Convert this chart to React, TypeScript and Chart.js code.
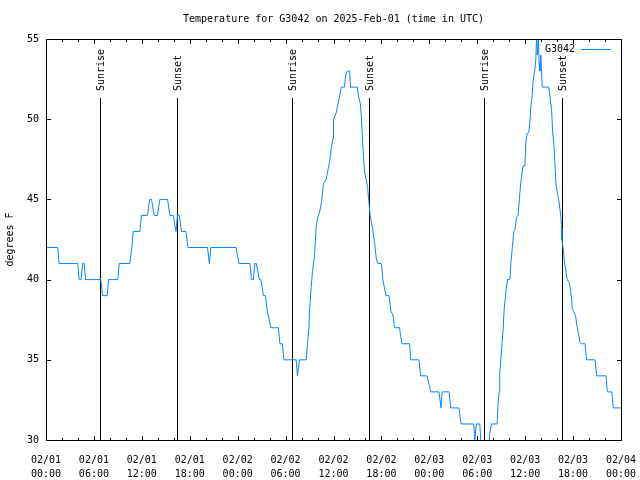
import React, { useEffect, useRef } from 'react';
import { Chart, registerables } from 'chart.js';

Chart.register(...registerables);

const FONT = "'DejaVu Sans Mono', 'Liberation Mono', monospace";
const TITLE = 'Temperature for G3042 on 2025-Feb-01 (time in UTC)';
const SERIES_LABEL = 'G3042';
const Y_LABEL = 'degrees F';
const LINE_COLOR = '#0a84ff';

// hours since 2025-02-01 00:00 UTC
const hours = [
  0, 1.47, 1.63, 3.98, 4.14, 4.39, 4.58, 4.77, 4.95, 6.86,
  7.09, 7.65, 7.84, 8.99, 9.16, 10.5, 10.75, 10.91, 11.75, 11.95,
  12.71, 12.98, 13.21, 13.55, 13.96, 14.26, 15.22, 15.52, 15.93, 16.27,
  16.47, 16.68, 16.97, 17.52, 17.78, 20.23, 20.45, 20.64, 23.8, 24.15,
  25.53, 25.72, 25.97, 26.15, 26.34, 26.72, 26.91, 27.22, 27.47, 27.72,
  28.16, 29.1, 29.29, 29.6, 29.79, 31.32, 31.49, 31.74, 32.58, 32.74,
  32.93, 32.99, 33.2, 33.37, 33.62, 33.83, 34.03, 34.25, 34.5, 34.75,
  35.09, 35.25, 35.5, 35.63, 35.75, 35.94, 36.0, 36.34, 36.5, 36.75,
  36.97, 37.38, 37.51, 37.72, 38.01, 38.13, 38.97, 39.14, 39.35, 39.51,
  39.64, 39.89, 40.1, 40.27, 40.43, 40.6, 40.86, 41.14, 41.36, 41.56,
  41.99, 42.19, 42.4, 42.59, 42.94, 43.21, 43.44, 43.65, 44.28, 44.37,
  44.57, 45.53, 45.66, 46.7, 46.91, 47.71, 48.04, 48.17, 49.21, 49.46,
  49.59, 50.47, 50.68, 51.72, 51.97, 53.56, 53.69, 53.88, 54.32, 54.5,
  55.44, 55.57, 55.78, 56.49, 56.61, 56.74, 56.82, 57.04, 57.24, 57.36,
  57.54, 57.67, 57.79, 58.08, 58.21, 58.39, 58.58, 58.71, 58.92, 59.12,
  59.33, 59.55, 59.75, 59.96, 60.09, 60.25, 60.46, 60.59, 60.71, 60.88,
  61.0, 61.22, 61.34, 61.43, 61.53, 61.66, 61.75, 61.84, 61.97, 62.13,
  62.97, 63.1, 63.31, 63.44, 63.6, 63.72, 63.85, 64.06, 64.23, 64.35,
  64.48, 64.56, 64.6, 64.77, 64.89, 65.02, 65.19, 65.27, 65.52, 65.69,
  65.82, 65.89, 66.07, 66.32, 66.45, 66.65, 66.86, 67.07, 67.49, 67.7,
  68.74, 68.96, 70.12, 70.29, 70.84, 71.04, 72.0,
];

// temperature, degrees F
const temps = [
  42, 42, 41, 41, 40, 40, 41, 41, 40, 40,
  39, 39, 40, 40, 41, 41, 42, 43, 43, 44,
  44, 45, 45, 44, 44, 45, 45, 44, 44, 43,
  44, 44, 43, 43, 42, 42, 41, 42, 42, 41,
  41, 40, 40, 41, 41, 40, 40, 39, 39, 38,
  37, 37, 36, 36, 35, 35, 34, 35, 35, 36,
  37, 38, 39.5, 40.5, 41.5, 43.3, 43.9, 44.2, 44.8, 46,
  46.25, 46.7, 47.3, 47.8, 48.3, 48.8, 50, 50.4, 50.8, 51.4,
  52, 52, 52.7, 53, 53, 52, 52, 51.4, 51, 50,
  48.6, 46.7, 46.2, 45.8, 44.8, 44, 43.3, 42.3, 41.3, 41,
  41, 40, 39.4, 39, 39, 38, 37.8, 37, 37, 36.6,
  36, 36, 35, 35, 34, 34, 33.3, 33, 33, 32,
  33, 33, 32, 32, 31, 31, 30, 31, 31, 29.5,
  29.5, 30.4, 31, 31, 32.3, 33, 34.2, 35.6, 36.9, 38.1,
  39, 39.6, 40, 40, 41, 42, 43, 43.1, 43.9, 44,
  45.4, 46.5, 47.1, 47.1, 48.6, 49.1, 49.2, 49.8, 50.75, 51.5,
  52.4, 53.1, 53.75, 55.2, 54, 55, 53.5, 53, 54, 52,
  52, 51.4, 50.6, 49.2, 48.4, 47.3, 46, 45.3, 44.9, 44.4,
  43.9, 43.2, 42.5, 41.9, 41.25, 40.8, 40.2, 40, 39.8, 39.3,
  38.75, 38.2, 38, 37.75, 37.2, 36.7, 36.1, 36, 36, 35,
  35, 34, 34, 33, 33, 32, 32,
];

const xTickDates = ['02/01', '02/01', '02/01', '02/01', '02/02', '02/02', '02/02', '02/02', '02/03', '02/03', '02/03', '02/03', '02/04'];
const xTickTimes = ['00:00', '06:00', '12:00', '18:00', '00:00', '06:00', '12:00', '18:00', '00:00', '06:00', '12:00', '18:00', '00:00'];
const X_MIN = 0;
const X_MAX = 72;
const X_MAJOR = 6;
const X_MINOR = 2;
const Y_MIN = 30;
const Y_MAX = 55;
const Y_STEP = 5;

const eventHours = [6.77, 16.35, 30.77, 40.43, 54.86, 64.56];
const eventLabels = ['Sunrise', 'Sunset', 'Sunrise', 'Sunset', 'Sunrise', 'Sunset'];
const EVENT_TOP = 51.3;

const framePlugin = {
  id: 'gnuplotFrame',
  beforeDatasetsDraw(chart: any) {
    const { ctx, scales } = chart;
    const x = scales.x;
    const y = scales.y;
    ctx.save();
    ctx.strokeStyle = '#000';
    ctx.lineWidth = 1;
    eventHours.forEach((h) => {
      const px = Math.round(x.getPixelForValue(h)) + 0.5;
      ctx.beginPath();
      ctx.moveTo(px, Math.round(y.getPixelForValue(Y_MIN)));
      ctx.lineTo(px, Math.round(y.getPixelForValue(EVENT_TOP)));
      ctx.stroke();
    });
    ctx.restore();
  },
  afterDatasetsDraw(chart: any) {
    const { ctx, chartArea: a, scales } = chart;
    const x = scales.x;
    const y = scales.y;
    ctx.save();
    ctx.strokeStyle = '#000';
    ctx.lineWidth = 1;
    // border
    ctx.strokeRect(a.left + 0.5, a.top + 0.5, a.right - a.left, a.bottom - a.top);
    // x ticks (major + minor), bottom and mirrored top
    ctx.beginPath();
    for (let h = X_MIN; h <= X_MAX + 1e-9; h += X_MINOR) {
      const major = Math.abs(h / X_MAJOR - Math.round(h / X_MAJOR)) < 1e-6;
      const len = major ? 4 : 2;
      const px = Math.round(x.getPixelForValue(h)) + 0.5;
      ctx.moveTo(px, a.bottom);
      ctx.lineTo(px, a.bottom - len);
      ctx.moveTo(px, a.top + 1);
      ctx.lineTo(px, a.top + 1 + len);
    }
    for (let v = Y_MIN; v <= Y_MAX; v += Y_STEP) {
      const py = Math.round(y.getPixelForValue(v)) + 0.5;
      ctx.moveTo(a.left + 1, py);
      ctx.lineTo(a.left + 5, py);
      ctx.moveTo(a.right, py);
      ctx.lineTo(a.right - 4, py);
    }
    ctx.stroke();

    ctx.fillStyle = '#000';
    ctx.font = `10px ${FONT}`;
    // event labels
    eventHours.forEach((h, i) => {
      const px = Math.round(x.getPixelForValue(h)) + 1;
      const top = Math.round(y.getPixelForValue(EVENT_TOP));
      ctx.save();
      ctx.translate(px, top - 7);
      ctx.rotate(-Math.PI / 2);
      ctx.textAlign = 'left';
      ctx.textBaseline = 'middle';
      ctx.fillText(eventLabels[i], 0, 0);
      ctx.restore();
    });

    // title
    ctx.textAlign = 'center';
    ctx.textBaseline = 'middle';
    ctx.fillText(TITLE, (a.left + a.right) / 2, 19);

    // y label
    ctx.save();
    ctx.translate(10, (a.top + a.bottom) / 2);
    ctx.rotate(-Math.PI / 2);
    ctx.fillText(Y_LABEL, 0, 0);
    ctx.restore();

    // legend
    ctx.textAlign = 'right';
    ctx.fillText(SERIES_LABEL, 575, 49);
    ctx.strokeStyle = LINE_COLOR;
    ctx.beginPath();
    ctx.moveTo(581, 49.5);
    ctx.lineTo(611, 49.5);
    ctx.stroke();
    ctx.restore();
  },
};

export default function App() {
  const canvasRef = useRef<HTMLCanvasElement | null>(null);

  useEffect(() => {
    const canvas = canvasRef.current;
    if (!canvas) return;
    const chart = new Chart(canvas, {
      type: 'line',
      data: {
        datasets: [
          {
            label: SERIES_LABEL,
            data: hours.map((h, i) => ({ x: h, y: temps[i] })),
            borderColor: LINE_COLOR,
            backgroundColor: LINE_COLOR,
            borderWidth: 1,
            pointRadius: 0,
            tension: 0,
            fill: false,
            clip: 0,
          } as any,
        ],
      },
      options: {
        animation: false,
        responsive: false,
        devicePixelRatio: 1,
        layout: { padding: { top: 39, right: 19, bottom: 0, left: 0 } },
        plugins: {
          legend: { display: false },
          title: { display: false },
          tooltip: { enabled: false },
        },
        scales: {
          x: {
            type: 'linear',
            min: X_MIN,
            max: X_MAX,
            grid: { display: false, drawTicks: false },
            border: { display: false },
            afterBuildTicks: (scale: any) => {
              scale.ticks = xTickDates.map((_, i) => ({ value: X_MIN + i * X_MAJOR }));
            },
            ticks: {
              autoSkip: false,
              maxRotation: 0,
              minRotation: 0,
              padding: 13,
              color: '#000',
              font: { family: FONT, size: 10, lineHeight: 1.4 },
              callback: (v: any) => {
                const i = Math.round((Number(v) - X_MIN) / X_MAJOR);
                return [xTickDates[i], xTickTimes[i]];
              },
            },
            afterFit: (scale: any) => {
              scale.height = 40;
              scale.paddingLeft = 0;
              scale.paddingRight = 0;
            },
          },
          y: {
            type: 'linear',
            min: Y_MIN,
            max: Y_MAX,
            grid: { display: false, drawTicks: false },
            border: { display: false },
            ticks: {
              stepSize: Y_STEP,
              padding: 7,
              color: '#000',
              font: { family: FONT, size: 10 },
              callback: (v: any) => String(v),
            },
            afterFit: (scale: any) => {
              scale.width = 46;
              scale.paddingTop = 0;
              scale.paddingBottom = 0;
            },
          },
        },
      },
      plugins: [framePlugin],
    });
    return () => chart.destroy();
  }, []);

  return (
    <div style={{ position: 'fixed', left: 0, top: 0, width: 640, height: 480, background: '#fff' }}>
      <canvas ref={canvasRef} width={640} height={480} style={{ width: 640, height: 480, display: 'block' }} />
    </div>
  );
}
